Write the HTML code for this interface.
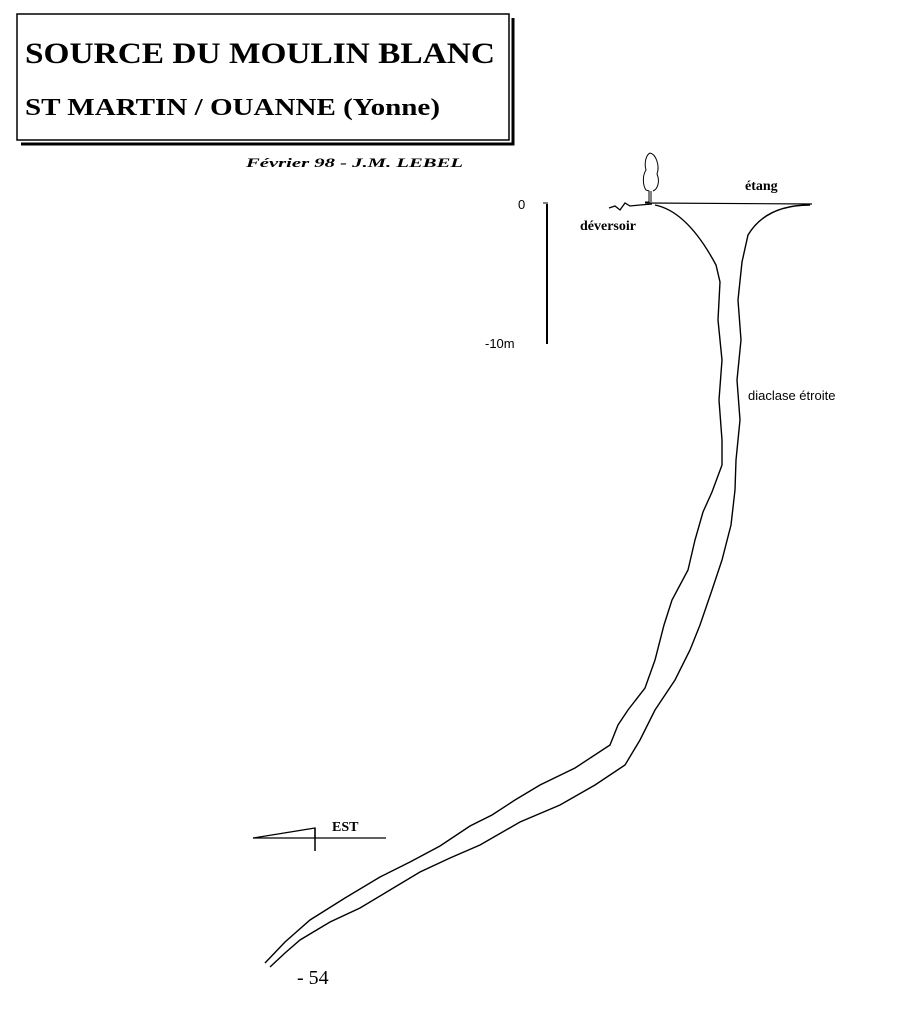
<!DOCTYPE html>
<html><head><meta charset="utf-8"><style>
html,body{margin:0;padding:0;background:#fff;}
svg{display:block;}
</style></head><body>
<svg width="900" height="1016" viewBox="0 0 900 1016" xmlns="http://www.w3.org/2000/svg" font-family="Liberation Serif, serif">
<rect x="0" y="0" width="900" height="1016" fill="#fff"/>
<!-- title box with shadow -->
<path d="M513,18 L513,144 L21,144" fill="none" stroke="#000" stroke-width="3"/>
<rect x="17" y="14" width="492" height="126" fill="#fff" stroke="#000" stroke-width="1.5"/>
<text x="25" y="63" font-size="30" font-weight="bold" textLength="470" lengthAdjust="spacingAndGlyphs">SOURCE DU MOULIN BLANC</text>
<text x="25" y="115" font-size="24" font-weight="bold" textLength="415" lengthAdjust="spacingAndGlyphs">ST MARTIN / OUANNE (Yonne)</text>
<text x="246" y="167" font-size="13" font-weight="bold" font-style="italic" textLength="217" lengthAdjust="spacingAndGlyphs">Février 98 - J.M. LEBEL</text>
<!-- scale -->
<line x1="547" y1="204" x2="547" y2="344" stroke="#000" stroke-width="2"/>
<line x1="543" y1="203" x2="548" y2="203" stroke="#000" stroke-width="1"/>
<text x="518" y="209" font-family="Liberation Sans, sans-serif" font-size="13">0</text>
<text x="485" y="348" font-family="Liberation Sans, sans-serif" font-size="13">-10m</text>
<!-- tree -->
<path d="M650,153 C646,155 644,163 646,170 C642,176 643,186 646,190 L649,191 L649,202 L645,202 M651,191 L651,202 M653,191 C658,189 660,181 657,174 C660,166 656,154 650,153" fill="none" stroke="#000" stroke-width="1"/>
<line x1="645" y1="203" x2="812" y2="204" stroke="#000" stroke-width="1.2"/>
<path d="M609,208 L615,206 L620,210 L625,203 L630,206 L640,205 L652,204" fill="none" stroke="#000" stroke-width="1.3"/>
<text x="580" y="230" font-size="14" font-weight="bold">déversoir</text>
<text x="745" y="190" font-size="14" font-weight="bold">étang</text>
<text x="748" y="400" font-family="Liberation Sans, sans-serif" font-size="13">diaclase étroite</text>
<!-- cave walls -->
<path d="M655,205 C680,210 700,235 716,265 L720,282 L718,320 L722,360 L719,400 L722,440 L722,465 L712,492 L703,512 L695,540 L688,570 L672,600 L664,625 L655,660 L645,688 L628,710 L618,725 L610,745 L575,768 L540,785 L515,800 L492,815 L470,826 L440,846 L410,862 L380,877 L345,898 L310,920 L285,942 L265,963" fill="none" stroke="#000" stroke-width="1.4"/>
<path d="M810,205 C780,205 760,215 748,235 L742,262 L738,300 L741,340 L737,380 L740,420 L736,460 L735,490 L731,525 L722,560 L712,590 L700,625 L690,650 L675,680 L655,710 L640,740 L625,765 L595,785 L560,805 L520,822 L480,845 L450,858 L420,872 L390,890 L360,908 L330,922 L300,940 L285,953 L270,967" fill="none" stroke="#000" stroke-width="1.4"/>
<!-- EST arrow -->
<line x1="253" y1="838" x2="386" y2="838" stroke="#000" stroke-width="1.3"/>
<path d="M253,838 L315,828 L315,838" fill="none" stroke="#000" stroke-width="1.2"/>
<line x1="315" y1="828" x2="315" y2="851" stroke="#000" stroke-width="1.5"/>
<text x="332" y="831" font-size="14" font-weight="bold">EST</text>
<text x="297" y="984" font-size="20">- 54</text>
</svg>
</body></html>
